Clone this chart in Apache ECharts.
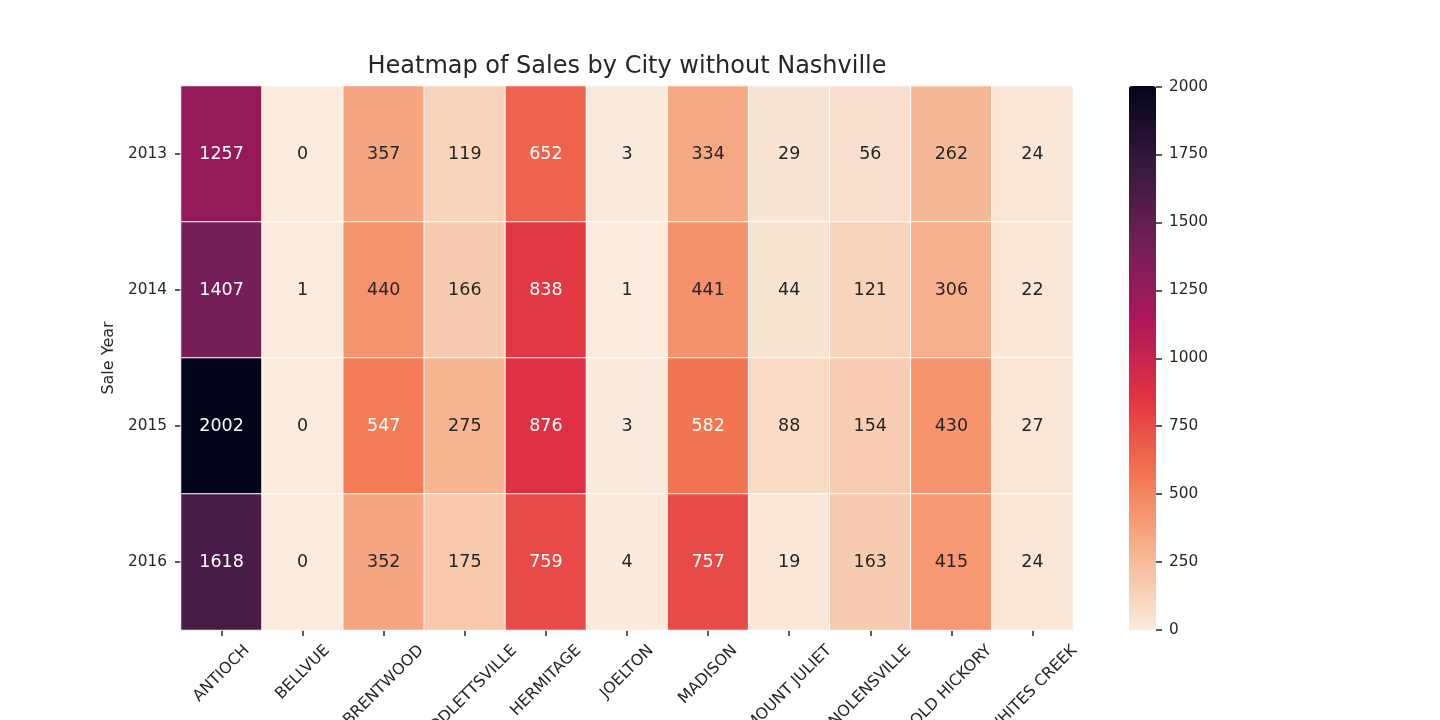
<!DOCTYPE html>
<html>
<head>
<meta charset="utf-8">
<script src="https://cdn.jsdelivr.net/npm/echarts@6/dist/echarts.min.js"></script>
<style>
html,body{margin:0;padding:0;background:#fff;}
#chart{width:1440px;height:720px;}
</style>
</head>
<body>
<div id="chart"></div>
<script>
// ---- data ----
const cities = ['ANTIOCH','BELLVUE','BRENTWOOD','GOODLETTSVILLE','HERMITAGE','JOELTON','MADISON','MOUNT JULIET','NOLENSVILLE','OLD HICKORY','WHITES CREEK'];
const years = ['2013','2014','2015','2016'];
const sales2013 = [1257, 0, 357, 119, 652, 3, 334, 29, 56, 262, 24];
const sales2014 = [1407, 1, 440, 166, 838, 1, 441, 44, 121, 306, 22];
const sales2015 = [2002, 0, 547, 275, 876, 3, 582, 88, 154, 430, 27];
const sales2016 = [1618, 0, 352, 175, 759, 4, 757, 19, 163, 415, 24];
const colorbarStep = 250;
const colorMin = 0;
const colorMax = 2002;

// ---- style ----
const FONT = 'DejaVu Sans';
const INK = '#262626';
// rocket colormap reversed (low -> high)
const rocketR = ['#faebdd','#f6b48f','#f37651','#e13342','#ad1759','#701f57','#35193e','#03051a'];

function hexToRgb(h){return [parseInt(h.slice(1,3),16),parseInt(h.slice(3,5),16),parseInt(h.slice(5,7),16)];}
function colorAt(v){
  let t=(v-colorMin)/(colorMax-colorMin); t=Math.max(0,Math.min(1,t));
  const n=rocketR.length-1; const p=t*n; const i=Math.min(Math.floor(p),n-1); const f=p-i;
  const a=hexToRgb(rocketR[i]), b=hexToRgb(rocketR[i+1]);
  return [0,1,2].map(k=>a[k]+(b[k]-a[k])*f);
}
function lum(rgb){
  const c=rgb.map(x=>{x/=255;return x<=0.03928?x/12.92:Math.pow((x+0.055)/1.055,2.4);});
  return 0.2126*c[0]+0.7152*c[1]+0.0722*c[2];
}

const rows=[sales2013,sales2014,sales2015,sales2016];
const cells=[];
rows.forEach((row,yi)=>row.forEach((v,xi)=>{
  cells.push({value:[xi,yi,v],label:{color: lum(colorAt(v))>0.408?INK:'#ffffff'}});
}));

// x label placement mimicking matplotlib's centered rotated labels
const cv=document.createElement('canvas').getContext('2d');
const XFS=15.8;
cv.font=XFS+'px "'+FONT+'"';
const xRich={};
cities.forEach((c,i)=>{
  const w=cv.measureText(c).width;
  const P=w/2;
  xRich['c'+i]={padding:[P,P,0,0],fontFamily:FONT,fontSize:XFS,color:INK};
});

const chart=echarts.init(document.getElementById('chart'));
chart.setOption({
  backgroundColor:'#ffffff',
  animation:false,
  title:{
    text:'Heatmap of Sales by City without Nashville',
    left:622, top:50, textAlign:'center',
    textStyle:{fontFamily:FONT,fontSize:24,fontWeight:'normal',color:INK}
  },
  grid:[
    {left:181,top:86,width:892,height:544,outerBoundsMode:'none',containLabel:false},
    {left:1129,top:86,width:27,height:544,outerBoundsMode:'none',containLabel:false}
  ],
  xAxis:[
    {type:'category',data:cities,gridIndex:0,position:'bottom',
     axisLine:{show:false},
     axisTick:{show:true,alignWithLabel:true,length:6,lineStyle:{color:INK,width:1.5}},
     axisLabel:{interval:0,rotate:45,align:'center',verticalAlign:'middle',margin:18,
       fontFamily:FONT,fontSize:XFS,color:INK,hideOverlap:false,
       formatter:(v,i)=>'{c'+i+'|'+v+'}',rich:xRich},
     splitLine:{show:false}},
    {type:'value',gridIndex:1,min:0,max:1,axisLine:{show:false,onZero:false},axisTick:{show:false},
     axisLabel:{show:false},splitLine:{show:false}}
  ],
  yAxis:[
    {type:'category',data:years,gridIndex:0,inverse:true,
     name:'Sale Year',nameLocation:'middle',nameRotate:90,nameGap:52,
     nameTextStyle:{fontFamily:FONT,fontSize:16,color:INK},
     axisLine:{show:false},
     axisTick:{show:true,alignWithLabel:true,length:6,lineStyle:{color:INK,width:1.5}},
     axisLabel:{margin:14,fontFamily:FONT,fontSize:15.3,color:INK},
     splitLine:{show:false}},
    {type:'value',gridIndex:1,min:colorMin,max:colorMax,interval:colorbarStep,position:'right',
     z:10,
     axisLine:{show:false,onZero:false},
     axisTick:{show:true,inside:false,length:6,lineStyle:{color:INK,width:1.5}},
     axisLabel:{margin:13,showMaxLabel:false,formatter:v=>String(v),
       fontFamily:FONT,fontSize:15.3,color:INK},
     splitLine:{show:false}}
  ],
  visualMap:{
    type:'continuous',min:colorMin,max:colorMax,calculable:false,
    seriesIndex:0,left:1129,top:86,itemWidth:27,itemHeight:544,padding:0,
    text:null,showLabel:false,hoverLink:false,
    inRange:{color:rocketR}
  },
  series:[{
    type:'heatmap',xAxisIndex:0,yAxisIndex:0,data:cells,
    label:{show:true,fontFamily:FONT,fontSize:17.5,formatter:p=>String(p.value[2])},
    itemStyle:{borderColor:'#ffffff',borderWidth:1},
    emphasis:{disabled:true}
  }]
});
</script>
</body>
</html>
